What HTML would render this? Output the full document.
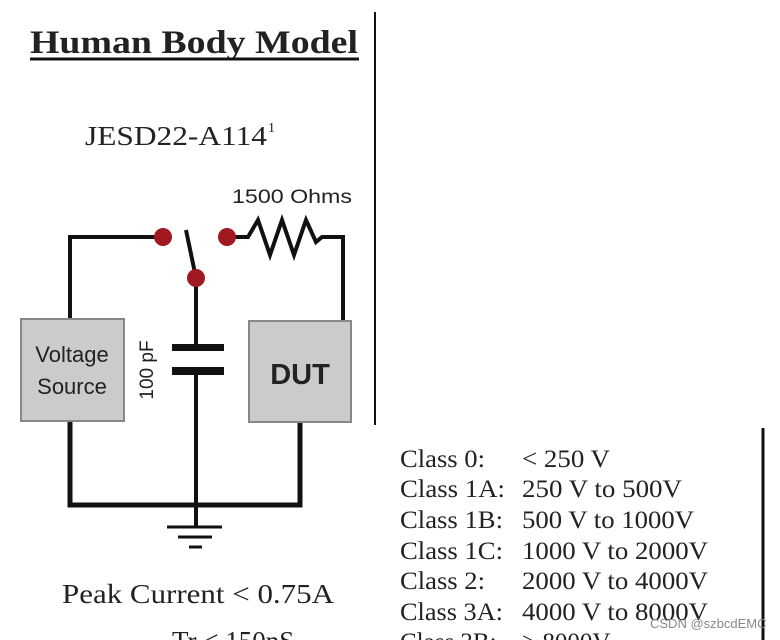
<!DOCTYPE html>
<html><head><style>
body{margin:0;background:#fff}
svg{display:block}
.s{font-family:"Liberation Serif",serif;fill:#222}
.a{font-family:"Liberation Sans",sans-serif;fill:#222}
</style></head><body>
<svg width="780" height="640" viewBox="0 0 780 640">
<text x="30" y="53" class="s" font-size="33" font-weight="bold" textLength="328" lengthAdjust="spacingAndGlyphs">Human Body Model</text>
<line x1="30" y1="59" x2="359" y2="59" stroke="#111" stroke-width="3"/>
<line x1="375" y1="12" x2="375" y2="425" stroke="#111" stroke-width="2"/>
<text x="85" y="145" class="s" font-size="27" textLength="182" lengthAdjust="spacingAndGlyphs">JESD22-A114</text>
<text x="268" y="132" class="s" font-size="14">1</text>
<text x="232" y="203" class="a" font-size="19" textLength="120" lengthAdjust="spacingAndGlyphs">1500 Ohms</text>
<g stroke="#111" stroke-width="4" fill="none">
<polyline points="70,320 70,237 163,237"/>
<line x1="186" y1="230" x2="196" y2="278"/>
<polyline points="227,237 248,237 258,220 270,255 282,220 294,255 306,220 316,242 322,237 343,237 343,320"/>
<line x1="196" y1="278" x2="196" y2="345"/>
<line x1="196" y1="372" x2="196" y2="505"/>
<polyline points="70,420 70,505 300,505 300,422" stroke-width="5"/>
<line x1="196" y1="505" x2="196" y2="526"/>
<line x1="167" y1="527" x2="222" y2="527" stroke-width="3"/>
<line x1="178" y1="537" x2="212" y2="537" stroke-width="3"/>
<line x1="189" y1="547" x2="202" y2="547" stroke-width="3"/>
</g>
<rect x="172" y="344" width="52" height="7" fill="#111"/>
<rect x="172" y="367" width="52" height="8" fill="#111"/>
<circle cx="163" cy="237" r="9" fill="#a01820"/>
<circle cx="227" cy="237" r="9" fill="#a01820"/>
<circle cx="196" cy="278" r="9" fill="#a01820"/>
<rect x="21" y="319" width="103" height="102" fill="#cbcbcb" stroke="#888" stroke-width="2"/>
<text x="72" y="362" class="a" font-size="22" text-anchor="middle">Voltage</text>
<text x="72" y="394" class="a" font-size="22" text-anchor="middle">Source</text>
<rect x="249" y="321" width="102" height="101" fill="#cbcbcb" stroke="#888" stroke-width="2"/>
<text x="300" y="384" class="a" font-size="29" font-weight="bold" text-anchor="middle">DUT</text>
<text transform="translate(153,370) rotate(-90)" class="a" font-size="19" text-anchor="middle">100 pF</text>
<text x="62" y="603" class="s" font-size="27" textLength="272" lengthAdjust="spacingAndGlyphs">Peak Current &lt; 0.75A</text>
<text x="172" y="650" class="s" font-size="27">Tr &lt; 150nS</text>
<g class="s" font-size="25">
<text x="400" y="467" textLength="85" lengthAdjust="spacingAndGlyphs">Class 0:</text><text x="522" y="467" textLength="88" lengthAdjust="spacingAndGlyphs">&lt; 250 V</text>
<text x="400" y="497" textLength="105" lengthAdjust="spacingAndGlyphs">Class 1A:</text><text x="522" y="497" textLength="160" lengthAdjust="spacingAndGlyphs">250 V to 500V</text>
<text x="400" y="528" textLength="103" lengthAdjust="spacingAndGlyphs">Class 1B:</text><text x="522" y="528" textLength="172" lengthAdjust="spacingAndGlyphs">500 V to 1000V</text>
<text x="400" y="559" textLength="103" lengthAdjust="spacingAndGlyphs">Class 1C:</text><text x="522" y="559" textLength="186" lengthAdjust="spacingAndGlyphs">1000 V to 2000V</text>
<text x="400" y="589" textLength="85" lengthAdjust="spacingAndGlyphs">Class 2:</text><text x="522" y="589" textLength="186" lengthAdjust="spacingAndGlyphs">2000 V to 4000V</text>
<text x="400" y="620" textLength="103" lengthAdjust="spacingAndGlyphs">Class 3A:</text><text x="522" y="620" textLength="186" lengthAdjust="spacingAndGlyphs">4000 V to 8000V</text>
<text x="400" y="650">Class 3B:</text><text x="522" y="650">&gt; 8000V</text>
</g>
<line x1="763" y1="428" x2="763" y2="640" stroke="#111" stroke-width="3"/>
<text x="650" y="628" class="a" font-size="13" style="fill:#888">CSDN @szbcdEMC</text>
</svg>
</body></html>
